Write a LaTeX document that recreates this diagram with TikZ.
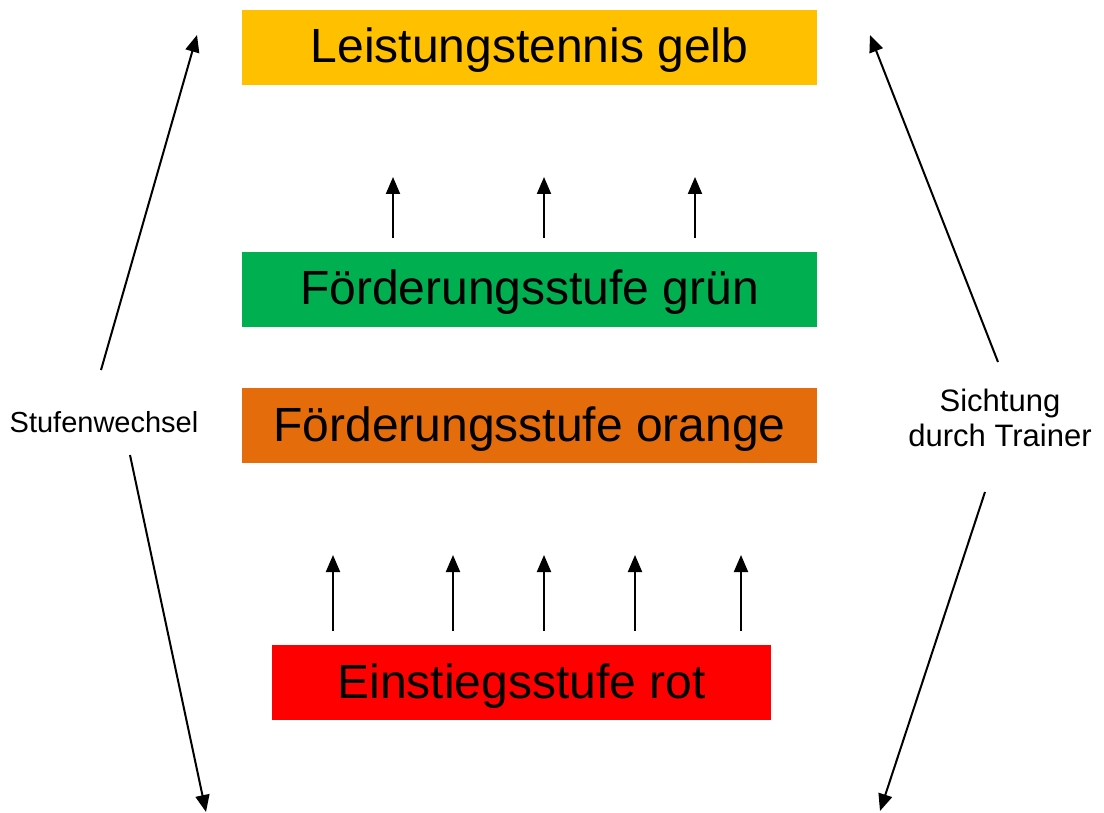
\documentclass[tikz,border=0pt]{standalone}
\usepackage{fontspec}
\setmainfont{Liberation Sans}
\usetikzlibrary{arrows.meta}
\definecolor{cgelb}{HTML}{FFC000}
\definecolor{cgruen}{HTML}{00B050}
\definecolor{corange}{HTML}{E46C0A}
\definecolor{crot}{HTML}{FF0000}
\begin{document}
\begin{tikzpicture}[x=1pt,y=-1pt,
  stufe/.style={inner sep=0pt,minimum height=75pt,text height=41pt,text depth=10pt,font=\fontsize{48}{56}\selectfont},
  pfeil/.style={line width=2pt,-{Triangle[length=17pt,width=14pt]}},
  lbl/.style={font=\fontsize{31}{35}\selectfont,align=center,inner sep=0pt}]
\useasboundingbox (0,0) rectangle (1104,813);
\node[stufe,fill=cgelb,minimum width=575pt] (gelb) at (529.5,47.5) {Leistungstennis gelb};
\node[stufe,fill=cgruen,minimum width=575pt] (gruen) at (529.5,289.5) {Förderungsstufe grün};
\node[stufe,fill=corange,minimum width=575pt] (orange) at (529.5,425.5) {Förderungsstufe orange};
\node[stufe,fill=crot,minimum width=499pt] (rot) at (521.5,682.5) {Einstiegsstufe rot};
% small arrows upper
\foreach \x [count=\i] in {393,544,695}{
  \coordinate (ua\i) at (\x,238);
  \coordinate (ub\i) at (\x,177);
  \draw[pfeil] (ua\i) -- (ub\i);
}
\foreach \x [count=\i] in {333,453,544,635,741}{
  \coordinate (la\i) at (\x,631);
  \coordinate (lb\i) at (\x,555);
  \draw[pfeil] (la\i) -- (lb\i);
}
% labels
\node[lbl,font=\fontsize{29}{35}\selectfont] (stw) at (104,422) {Stufenwechsel};
\node[lbl] (sdt) at (1000,418) {Sichtung\\durch Trainer};
% long arrows
\coordinate (l1a) at (101,370); \coordinate (l1b) at (197,35);
\coordinate (l2a) at (130,455); \coordinate (l2b) at (206,812);
\coordinate (r1a) at (998,362); \coordinate (r1b) at (870,35);
\coordinate (r2a) at (985,492); \coordinate (r2b) at (880,811);
\draw[pfeil] (l1a) -- (l1b);
\draw[pfeil] (l2a) -- (l2b);
\draw[pfeil] (r1a) -- (r1b);
\draw[pfeil] (r2a) -- (r2b);
\end{tikzpicture}
\end{document}
